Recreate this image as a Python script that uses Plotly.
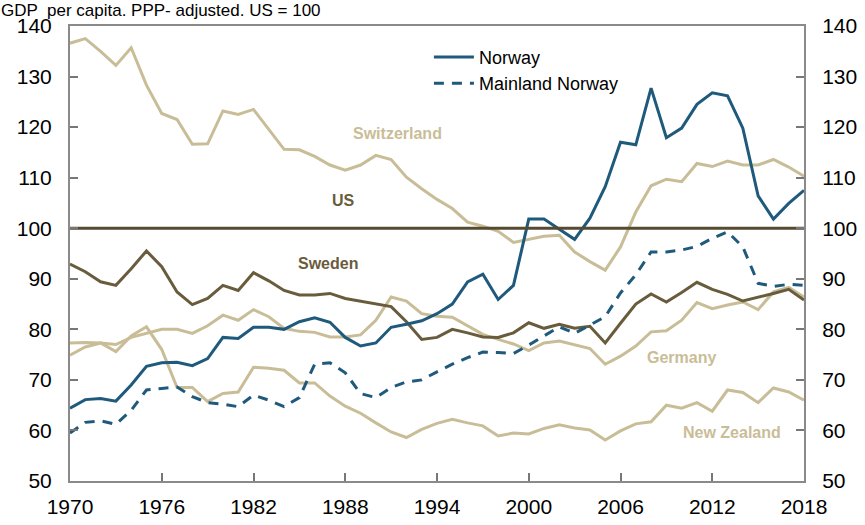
import plotly.graph_objects as go

years = list(range(1970, 2019))

norway = [64.4, 66.1, 66.3, 65.8, 69.0, 72.7, 73.4, 73.5, 72.8, 74.2,
          78.4, 78.2, 80.4, 80.4, 80.0, 81.5, 82.3, 81.4, 78.4, 76.7,
          77.3, 80.4, 81.0, 81.7, 83.1, 85.0, 89.4, 90.9, 85.9, 88.7,
          101.8, 101.8, 99.8, 97.8, 102.0, 108.2, 117.0, 116.5, 127.7, 117.9,
          119.8, 124.5, 126.8, 126.2, 119.8, 106.4, 101.8, 104.9, 107.5]

mainland = [59.5, 61.6, 61.9, 61.2, 64.0, 68.0, 68.3, 68.6, 66.7, 65.5,
            65.2, 64.7, 67.0, 66.0, 64.7, 66.5, 73.1, 73.4, 71.4, 67.3,
            66.5, 68.5, 69.6, 70.0, 71.6, 73.1, 74.4, 75.5, 75.4, 75.2,
            76.9, 78.7, 80.5, 79.2, 80.8, 82.5, 87.2, 90.8, 95.3, 95.3,
            95.7, 96.4, 98.0, 99.3, 96.3, 89.1, 88.5, 88.9, 88.7]

switzerland = [136.6, 137.5, 135.0, 132.2, 135.7, 128.3, 122.7, 121.5, 116.6, 116.7,
               123.2, 122.5, 123.5, 119.6, 115.6, 115.5, 114.2, 112.5, 111.5, 112.5,
               114.4, 113.6, 110.1, 107.8, 105.7, 103.9, 101.2, 100.4, 99.4, 97.2,
               97.8, 98.4, 98.6, 95.3, 93.4, 91.7, 96.3, 103.2, 108.4, 109.7,
               109.2, 112.8, 112.2, 113.3, 112.5, 112.5, 113.6, 112.1, 110.3]

sweden = [92.9, 91.4, 89.4, 88.7, 92.0, 95.5, 92.4, 87.4, 84.9, 86.1,
          88.7, 87.7, 91.2, 89.6, 87.7, 86.8, 86.8, 87.1, 86.1, 85.6,
          85.0, 84.5, 81.5, 78.0, 78.4, 80.0, 79.3, 78.5, 78.4, 79.3,
          81.3, 80.2, 81.0, 80.2, 80.6, 77.3, 81.2, 85.0, 87.0, 85.4,
          87.3, 89.3, 87.9, 86.9, 85.6, 86.3, 87.1, 87.9, 85.8]

germany = [77.3, 77.4, 77.3, 77.0, 78.4, 79.2, 80.0, 80.0, 79.2, 80.7,
           82.8, 81.8, 83.9, 82.5, 80.2, 79.6, 79.4, 78.5, 78.5, 78.9,
           81.8, 86.4, 85.6, 83.1, 82.6, 82.4, 80.7, 79.0, 78.0, 77.1,
           75.8, 77.3, 77.7, 76.9, 76.2, 73.1, 74.7, 76.7, 79.5, 79.7,
           81.8, 85.3, 84.1, 84.8, 85.4, 83.9, 87.4, 88.3, 86.4]

new_zealand = [74.9, 76.5, 77.3, 75.6, 78.7, 80.5, 76.0, 68.5, 68.5, 65.7,
               67.3, 67.6, 72.5, 72.3, 71.9, 69.4, 69.4, 66.8, 64.8, 63.4,
               61.5, 59.7, 58.6, 60.2, 61.4, 62.2, 61.5, 60.9, 58.9, 59.5,
               59.3, 60.4, 61.1, 60.5, 60.1, 58.1, 59.9, 61.3, 61.7, 65.0,
               64.4, 65.5, 63.8, 68.0, 67.5, 65.5, 68.4, 67.6, 66.0]

us = [100.0] * len(years)

x_ticks = [1970, 1976, 1982, 1988, 1994, 2000, 2006, 2012, 2018]
y_ticks = [50, 60, 70, 80, 90, 100, 110, 120, 130, 140]

labels = ["Switzerland", "US", "Sweden", "Germany", "New Zealand"]
label_x = [1991.4, 1987.9, 1986.9, 2010.0, 2013.3]
label_y = [118.8, 105.4, 93.1, 74.5, 59.5]

BLUE = "#1f5a7c"
TAN = "#c9bd98"
OLIVE = "#695c3c"
label_colors = [TAN, OLIVE, OLIVE, TAN, TAN]

FONT = "Liberation Sans, Arial, Helvetica, sans-serif"

fig = go.Figure()
for series in [switzerland, germany, new_zealand]:
    fig.add_trace(go.Scatter(x=years, y=series, mode="lines",
                             line=dict(color=TAN, width=3), showlegend=False,
                             hoverinfo="skip"))
fig.add_trace(go.Scatter(x=years, y=sweden, mode="lines",
                         line=dict(color=OLIVE, width=3), showlegend=False))
fig.add_trace(go.Scatter(x=years, y=us, mode="lines", yaxis="y2",
                         line=dict(color="#564b30", width=3), showlegend=False))
fig.add_trace(go.Scatter(x=years, y=norway, mode="lines", name="Norway",
                         line=dict(color=BLUE, width=3)))
fig.add_trace(go.Scatter(x=years, y=mainland, mode="lines", name="Mainland Norway",
                         line=dict(color=BLUE, width=3, dash="10px,8px")))

for t, lx, ly, c in zip(labels, label_x, label_y, label_colors):
    fig.add_annotation(x=lx, y=ly, text="<b>" + t + "</b>", showarrow=False,
                       font=dict(family=FONT, size=16, color=c),
                       xanchor="center", yanchor="middle")

fig.add_annotation(xref="paper", yref="paper", x=-0.0954, y=1.0565,
                   xanchor="left", yanchor="top",
                   text="GDP  per capita. PPP- adjusted. US = 100",
                   showarrow=False, borderpad=0,
                   font=dict(family=FONT, size=17, color="black"))

axis_common = dict(showgrid=False, zeroline=False, linecolor="#8a8a8a",
                   linewidth=2, ticks="inside", ticklen=8, tickwidth=1.5,
                   automargin=False,
                   tickcolor="#777777", tickfont=dict(family=FONT, size=21, color="black"))

fig.update_layout(
    width=865, height=525,
    margin=dict(l=70, r=61, t=26, b=44),
    paper_bgcolor="white", plot_bgcolor="white",
    font=dict(family=FONT),
    xaxis=dict(range=[1970, 2018], tickmode="array", tickvals=x_ticks,
               showline=True, mirror=True, ticklabelstandoff=6, **axis_common),
    yaxis=dict(range=[50, 140], tickmode="array", tickvals=y_ticks,
               showline=True, ticklabelstandoff=12, **axis_common),
    yaxis2=dict(range=[50, 140], tickmode="array", tickvals=y_ticks,
                overlaying="y", side="right", showline=True,
                ticklabelstandoff=12, **axis_common),
    legend=dict(x=0.489, y=0.972, xanchor="left", yanchor="top",
                bgcolor="rgba(0,0,0,0)", font=dict(family=FONT, size=18, color="black"),
                itemwidth=40, tracegroupgap=0),
)

fig.write_html("out.html", config={"displayModeBar": False},
               post_script="document.body.style.margin='0';")
